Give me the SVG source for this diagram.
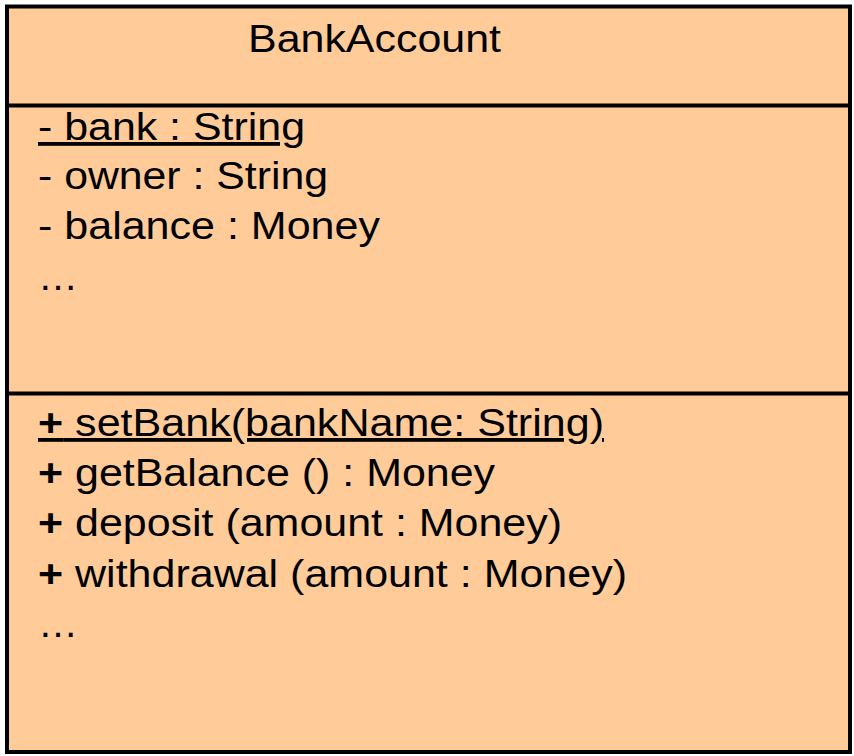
<svg xmlns="http://www.w3.org/2000/svg" width="854" height="756" viewBox="0 0 854 756">
<style>
.t{font-family:"Liberation Sans",Arial,sans-serif;font-size:38px;fill:#000}
.b{font-weight:bold}
.u{text-decoration:underline}
.ln{stroke:#000;stroke-width:4;fill:none}
</style>
<rect x="0" y="0" width="854" height="756" fill="#ffffff"/>
<g id="BankAccount">
<rect x="7" y="6.5" width="843" height="745.5" fill="#FFCC99" stroke="#000" stroke-width="4"/>
<line class="ln" x1="7" y1="105.5" x2="850" y2="105.5"/>
<line class="ln" x1="7" y1="393.5" x2="850" y2="393.5"/>
<text class="t" x="248" y="52" textLength="253" lengthAdjust="spacingAndGlyphs">BankAccount</text>
<text class="t u" x="38" y="140" textLength="267" lengthAdjust="spacingAndGlyphs">- bank : String</text>
<text class="t" x="38" y="189" textLength="290" lengthAdjust="spacingAndGlyphs">- owner : String</text>
<text class="t" x="38" y="239" textLength="342" lengthAdjust="spacingAndGlyphs">- balance : Money</text>
<text class="t" x="38" y="290" textLength="40" lengthAdjust="spacingAndGlyphs">…</text>
<text class="t u" x="38" y="436" textLength="566" lengthAdjust="spacingAndGlyphs"><tspan class="b">+</tspan> setBank(bankName: String)</text>
<text class="t" x="38" y="486" textLength="457" lengthAdjust="spacingAndGlyphs"><tspan class="b">+</tspan> getBalance () : Money</text>
<text class="t" x="38" y="536" textLength="524" lengthAdjust="spacingAndGlyphs"><tspan class="b">+</tspan> deposit (amount : Money)</text>
<text class="t" x="38" y="587" textLength="589" lengthAdjust="spacingAndGlyphs"><tspan class="b">+</tspan> withdrawal (amount : Money)</text>
<text class="t" x="38" y="637" textLength="40" lengthAdjust="spacingAndGlyphs">…</text>
</g>
</svg>
